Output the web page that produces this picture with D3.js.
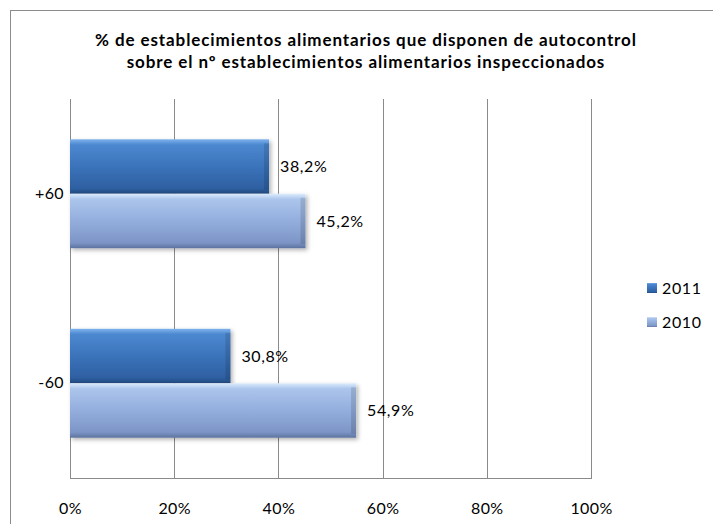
<!DOCTYPE html>
<html>
<head>
<meta charset="utf-8">
<title>Autocontrol</title>
<script src="https://cdn.jsdelivr.net/npm/d3@7"></script>
<style>
  body { margin: 0; background: #fff; }
  text { font-family: Lato, "Open Sans", sans-serif; fill: #000; }
</style>
</head>
<body>
<script>
// datos
var categorias = ['+60', '-60'];
var series = ['2011', '2010'];
var valores2011 = [38.2, 30.8];
var valores2010 = [45.2, 54.9];
var ticks = [0, 20, 40, 60, 80, 100];
var titulo = ['% de establecimientos alimentarios que disponen de autocontrol',
              'sobre el nº establecimientos alimentarios  inspeccionados'];

var width = 713, height = 524;
var plot = { left: 70, right: 591, top: 99, bottom: 478 };

var svg = d3.select('body').append('svg')
    .attr('width', width)
    .attr('height', height);

var defs = svg.append('defs');

// degradados de las barras
function gradiente(id, stops) {
    var g = defs.append('linearGradient').attr('id', id)
        .attr('x1', 0).attr('y1', 0).attr('x2', 0).attr('y2', 1);
    stops.forEach(function(s) {
        g.append('stop').attr('offset', s[0]).attr('stop-color', s[1]);
    });
}
gradiente('g2011', [[0, '#7eb2ec'], [0.1, '#4c88d0'], [0.5, '#3b73ba'], [0.9, '#2e60a2'], [1, '#22497d']]);
gradiente('g2010', [[0, '#dcecfd'], [0.1, '#abc5ec'], [0.5, '#93aedd'], [0.9, '#7c95c6'], [1, '#5d739f']]);

var sombra = defs.append('filter').attr('id', 'sombra')
    .attr('x', '-5%').attr('y', '-10%').attr('width', '115%').attr('height', '130%');
sombra.append('feDropShadow').attr('dx', 2).attr('dy', 2).attr('stdDeviation', 2)
    .attr('flood-color', '#000').attr('flood-opacity', 0.3);

// marco
svg.append('rect')
    .attr('x', 10.5).attr('y', 10.5)
    .attr('width', width).attr('height', height)
    .attr('fill', 'none').attr('stroke', '#8c8c8c').attr('stroke-width', 1);

// escalas
var x = d3.scaleLinear().domain([0, 100]).range([plot.left, plot.right]);
var y = d3.scaleBand().domain(categorias).range([plot.top, plot.bottom])
    .paddingInner(0).paddingOuter(0);
var ySerie = d3.scaleBand().domain(series)
    .range([0, y.bandwidth()]).paddingOuter(0.74).paddingInner(0);

// rejilla
svg.append('g').selectAll('line')
    .data(ticks)
    .enter().append('line')
    .attr('x1', function(d) { return Math.round(x(d)) + 0.5; })
    .attr('x2', function(d) { return Math.round(x(d)) + 0.5; })
    .attr('y1', plot.top)
    .attr('y2', plot.bottom)
    .attr('stroke', '#8a8a8a');

svg.append('line')
    .attr('x1', plot.left).attr('x2', plot.right + 1)
    .attr('y1', plot.bottom + 0.5).attr('y2', plot.bottom + 0.5)
    .attr('stroke', '#8a8a8a');

// eje x
var ejeX = svg.append('g')
    .attr('transform', 'translate(0,' + (plot.bottom + 30) + ')')
    .call(d3.axisBottom(x).tickValues(ticks).tickSize(0).tickPadding(0)
        .tickFormat(function(d) { return d + '%'; }));
ejeX.select('.domain').remove();
ejeX.selectAll('text').attr('font-size', 16).attr('dy', '0.35em')
    .style('font-family', 'Lato, sans-serif').style('letter-spacing', '0.4px');

// eje y
var ejeY = svg.append('g')
    .attr('transform', 'translate(' + (plot.left - 6) + ',0)')
    .call(d3.axisLeft(y).tickSize(0).tickPadding(0));
ejeY.select('.domain').remove();
ejeY.selectAll('text').attr('font-size', 16)
    .style('font-family', 'Lato, sans-serif').style('letter-spacing', '0.4px');

// barras
var filas = [];
categorias.forEach(function(c, i) {
    filas.push({ cat: c, serie: '2011', v: valores2011[i] });
    filas.push({ cat: c, serie: '2010', v: valores2010[i] });
});

var barras = svg.append('g').selectAll('g')
    .data(filas)
    .enter().append('g')
    .attr('transform', function(d) {
        return 'translate(0,' + (y(d.cat) + ySerie(d.serie)) + ')';
    });

barras.append('rect')
    .attr('x', x(0))
    .attr('y', 0)
    .attr('width', function(d) { return x(d.v) - x(0); })
    .attr('height', ySerie.bandwidth())
    .attr('fill', function(d) { return 'url(#g' + d.serie + ')'; })
    .attr('filter', 'url(#sombra)');

// bisel lateral derecho
barras.append('rect')
    .attr('x', function(d) { return x(d.v) - 5; })
    .attr('y', 4)
    .attr('width', 5)
    .attr('height', ySerie.bandwidth() - 8)
    .attr('fill', '#000').attr('opacity', 0.12);

barras.append('text')
    .attr('x', function(d) { return x(d.v) + 11; })
    .attr('y', ySerie.bandwidth() / 2)
    .attr('dy', '0.35em')
    .attr('font-size', 16)
    .style('letter-spacing', '0.6px')
    .text(function(d) { return d.v.toFixed(1).replace('.', ',') + '%'; });

// titulo
svg.append('g').selectAll('text')
    .data(titulo)
    .enter().append('text')
    .attr('x', 366)
    .attr('y', function(d, i) { return 46 + i * 22; })
    .attr('text-anchor', 'middle')
    .attr('font-size', 17)
    .attr('font-weight', 'bold')
    .style('letter-spacing', '0.9px')
    .text(function(d) { return d; });

// leyenda
var leyenda = svg.append('g').selectAll('g')
    .data(series)
    .enter().append('g')
    .attr('transform', function(d, i) { return 'translate(647,' + (283 + i * 34) + ')'; });

leyenda.append('rect')
    .attr('width', 10).attr('height', 10)
    .attr('fill', function(d) { return 'url(#g' + d + ')'; });

leyenda.append('text')
    .attr('x', 15).attr('y', 5).attr('dy', '0.35em')
    .attr('font-size', 16)
    .style('letter-spacing', '0.6px')
    .text(function(d) { return d; });
</script>
</body>
</html>
